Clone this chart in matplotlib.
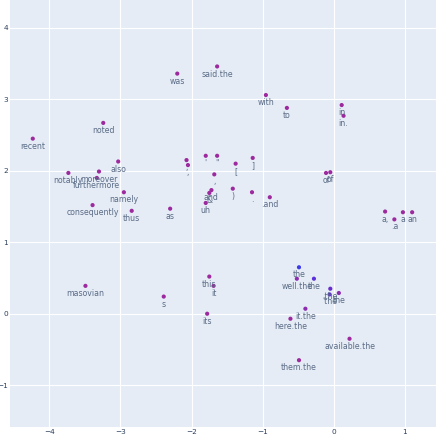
import numpy as np
import matplotlib
matplotlib.use('Agg')
import matplotlib.pyplot as plt

# token labels and 2d coords
words = ['recent', 'noted', 'was', 'said.the', 'also', 'notably', 'moreover', 'furthermore',
         'namely', 'consequently', 'thus', 'as', 'uh', ';', ',', "'", '"', ',', 'and', '&',
         'with', 'to', 'in', 'in.', '[', ']', ')', '.', '.and', 'of', 'of',
         'a,', '.a', 'a', 'an', 'masovian', 's', 'this', 'it', 'its',
         'the', 'well.the', 'the', '.the', "'the", 'the', 'it.the', 'here.the',
         'available.the', 'them.the']
xs = [-4.23, -3.24, -2.20, -1.64, -3.03, -3.73, -3.30, -3.33,
      -2.95, -3.39, -2.84, -2.30, -1.80, -2.07, -2.05, -1.80, -1.64, -1.68, -1.72, -1.75,
      -0.955, -0.66, 0.11, 0.136, -1.38, -1.14, -1.42, -1.15, -0.90, -0.11, -0.05,
      0.72, 0.85, 0.97, 1.10, -3.49, -2.39, -1.75, -1.69, -1.78,
      -0.49, -0.52, -0.28, -0.05, -0.06, 0.07, -0.40, -0.61,
      0.22, -0.49]
ys = [2.45, 2.67, 3.36, 3.46, 2.13, 1.97, 1.99, 1.90,
      1.70, 1.52, 1.44, 1.47, 1.55, 2.15, 2.08, 2.21, 2.21, 1.95, 1.73, 1.69,
      3.06, 2.88, 2.92, 2.77, 2.10, 2.18, 1.75, 1.70, 1.63, 1.97, 1.98,
      1.43, 1.32, 1.42, 1.42, 0.39, 0.24, 0.52, 0.39, 0.00,
      0.65, 0.49, 0.49, 0.35, 0.27, 0.29, 0.07, -0.07,
      -0.35, -0.65]

# a few points lean blue, the rest are magenta
cols = ['#9c2a9e'] * len(words)
cols[40] = '#3b3be8'
cols[41] = '#8a2bb0'
cols[42] = '#5a30dc'
cols[43] = '#6a2ccc'
cols[44] = '#6230d4'
cols[45] = '#8a2bb0'
cols[46] = '#8a2bb0'

fig = plt.figure(figsize=(4.36, 4.36), dpi=100)
ax = fig.add_axes([10/436, 9/436, 426/436, 427/436])
ax.set_facecolor('#e5ecf6')
for s in ax.spines.values():
    s.set_visible(False)

ax.scatter(xs, ys, s=9, c=cols, zorder=3, linewidths=0)
for w, x, y in zip(words, xs, ys):
    ax.annotate(w, (x, y), xytext=(0, -2.2), textcoords='offset points',
                ha='center', va='top', fontsize=5.6, color='#5a6b85', zorder=4)

ax.set_xlim(-4.55, 1.435)
ax.set_ylim(-1.585, 4.39)
ax.set_xticks([-4, -3, -2, -1, 0, 1])
ax.set_yticks([-1, 0, 1, 2, 3, 4])
ax.set_xticklabels(['\u22124', '\u22123', '\u22122', '\u22121', '0', '1'])
ax.set_yticklabels(['\u22121', '0', '1', '2', '3', '4'])
ax.grid(True, color='white', linewidth=0.8, zorder=0)
ax.set_axisbelow(True)
ax.tick_params(length=0, labelsize=5.3, labelcolor='#2a3f5f', pad=1.5)

fig.savefig('out.png', dpi=100)
